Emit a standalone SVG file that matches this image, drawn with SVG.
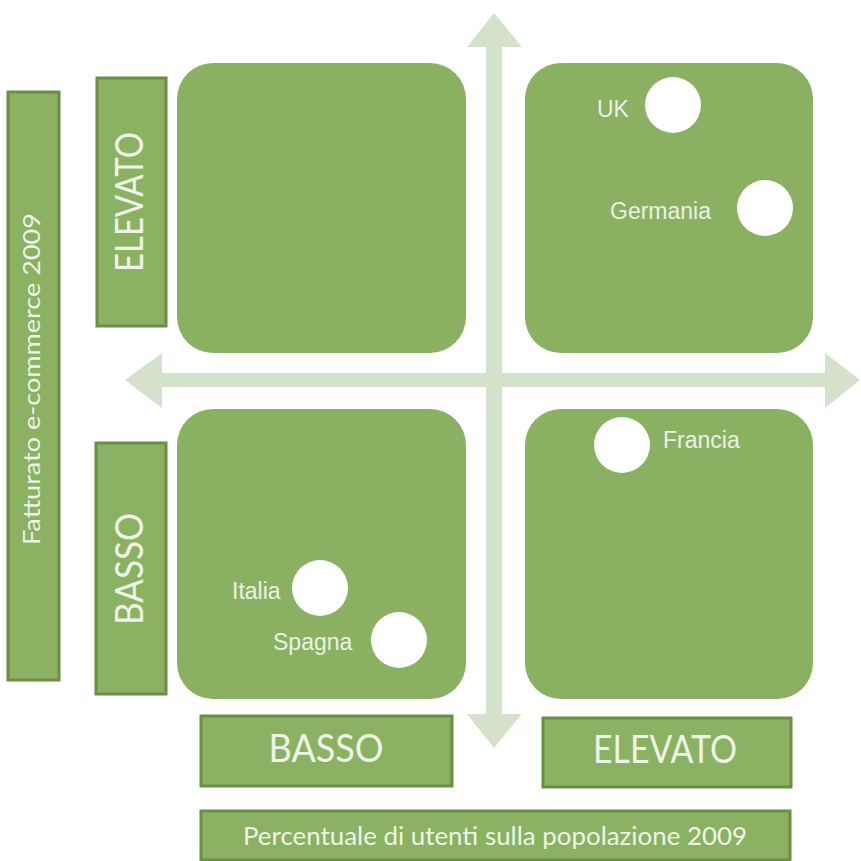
<svg xmlns="http://www.w3.org/2000/svg" width="861" height="861" viewBox="0 0 861 861">
<style>
.quad{fill:#8ab062;}
.lbl{fill:#8bb162;stroke:#6b8d44;stroke-width:3;}
.axis{fill:#d4e2cb;}
.dot{fill:#ffffff;}
.lt{font-family:Lato,"Open Sans","Noto Sans",sans-serif;fill:#eef4e8;text-anchor:middle;}
.ct{font-family:"Liberation Sans",Arial,sans-serif;font-size:23px;fill:#eaf1e3;}
</style>
<rect width="861" height="861" fill="#ffffff"/>
<g id="connectors">
<polygon class="axis" points="494,13 522,47 502,47 502,714 522,714 494,748 467,714 486,714 486,47 467,47"/>
<polygon class="axis" points="125,380 162,353 162,373 825,373 825,353 860,380 825,408 825,387 162,387 162,408"/>
</g>
<g id="quad-tl"><rect class="quad" x="177" y="63" width="289" height="290" rx="36"/></g>
<g id="quad-tr"><rect class="quad" x="525" y="63" width="288" height="290" rx="36"/>
<circle class="dot" cx="673" cy="105" r="28"/><text class="ct" x="597" y="117">UK</text>
<circle class="dot" cx="765" cy="208" r="28"/><text class="ct" x="610" y="219">Germania</text></g>
<g id="quad-bl"><rect class="quad" x="177" y="409" width="289" height="290" rx="36"/>
<circle class="dot" cx="320" cy="588" r="28"/><text class="ct" x="232" y="599">Italia</text>
<circle class="dot" cx="399" cy="640" r="28"/><text class="ct" x="273" y="650">Spagna</text></g>
<g id="quad-br"><rect class="quad" x="525" y="409" width="288" height="290" rx="36"/>
<circle class="dot" cx="622" cy="445" r="28"/><text class="ct" x="663" y="448">Francia</text></g>
<g id="label-y-axis"><rect class="lbl" x="8" y="92" width="51" height="588"/>
<text class="lt" transform="translate(40,379) rotate(-90)" font-size="23" textLength="332" lengthAdjust="spacingAndGlyphs">Fatturato e-commerce 2009</text></g>
<g id="label-y-high"><rect class="lbl" x="97" y="78" width="69" height="248"/>
<text class="lt" transform="translate(143,202) rotate(-90)" font-size="38" textLength="140" lengthAdjust="spacingAndGlyphs">ELEVATO</text></g>
<g id="label-y-low"><rect class="lbl" x="96" y="443" width="70" height="251"/>
<text class="lt" transform="translate(143,569) rotate(-90)" font-size="38" textLength="112" lengthAdjust="spacingAndGlyphs">BASSO</text></g>
<g id="label-x-low"><rect class="lbl" x="201" y="716" width="251" height="70"/>
<text class="lt" x="326" y="762" font-size="38" textLength="115" lengthAdjust="spacingAndGlyphs">BASSO</text></g>
<g id="label-x-high"><rect class="lbl" x="543" y="718" width="248" height="69"/>
<text class="lt" x="665" y="763" font-size="38" textLength="144" lengthAdjust="spacingAndGlyphs">ELEVATO</text></g>
<g id="label-x-axis"><rect class="lbl" x="201" y="811" width="589" height="49"/>
<text class="lt" x="495" y="845" font-size="25" textLength="504" lengthAdjust="spacingAndGlyphs">Percentuale di utenti sulla popolazione 2009</text></g>
</svg>
